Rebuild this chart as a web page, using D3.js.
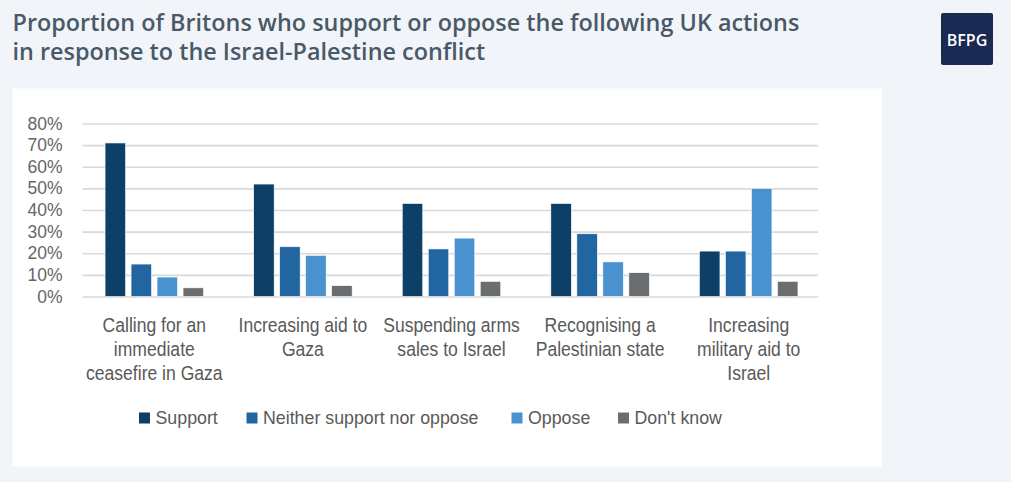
<!DOCTYPE html>
<html>
<head>
<meta charset="utf-8">
<script src="https://cdn.jsdelivr.net/npm/d3@7"></script>
<style>
  html, body { margin: 0; padding: 0; background: #f1f5f9; }
  svg { display: block; }
</style>
</head>
<body>
<svg id="chart" width="1011" height="482"></svg>
<script>
// Survey actions (x-axis groups), split into the lines shown under each group
const categories = [
  "Calling for an immediate ceasefire in Gaza",
  "Increasing aid to Gaza",
  "Suspending arms sales to Israel",
  "Recognising a Palestinian state",
  "Increasing military aid to Israel"
];
const categoryLines = [
  ["Calling for an", "immediate", "ceasefire in Gaza"],
  ["Increasing aid to", "Gaza"],
  ["Suspending arms", "sales to Israel"],
  ["Recognising a", "Palestinian state"],
  ["Increasing", "military aid to", "Israel"]
];

// Response series
const seriesNames = ["Support", "Neither support nor oppose", "Oppose", "Don't know"];
const support = [0.71, 0.52, 0.43, 0.43, 0.21];
const neither = [0.15, 0.23, 0.22, 0.29, 0.21];
const oppose  = [0.09, 0.19, 0.27, 0.16, 0.50];
const dontKnow = [0.04, 0.05, 0.07, 0.11, 0.07];
const seriesValues = [support, neither, oppose, dontKnow];
const seriesColors = ["#0e3f66", "#2166a1", "#4a91cf", "#6b6e70"];

// Y axis ticks
const yTicks = [0, 0.1, 0.2, 0.3, 0.4, 0.5, 0.6, 0.7, 0.8];

const svg = d3.select("#chart");

// Title
const title = svg.append("g")
  .attr("font-family", "'Open Sans', sans-serif")
  .attr("font-weight", 600)
  .attr("font-size", 23.4)
  .attr("fill", "#4a5967");
title.append("text").attr("x", 12.5).attr("y", 31)
  .text("Proportion of Britons who support or oppose the following UK actions");
title.append("text").attr("x", 12.5).attr("y", 60)
  .text("in response to the Israel-Palestine conflict");

// Logo badge
svg.append("rect")
  .attr("x", 941).attr("y", 13).attr("width", 52).attr("height", 52)
  .attr("rx", 2).attr("fill", "#1b2a52");
svg.append("text")
  .attr("x", 967).attr("y", 40)
  .attr("text-anchor", "middle").attr("dominant-baseline", "central")
  .attr("font-family", "'Open Sans', sans-serif").attr("font-weight", 600)
  .attr("font-size", 16).attr("fill", "#ffffff")
  .text("BFPG");

// White chart panel
svg.append("rect")
  .attr("x", 12.5).attr("y", 88.5).attr("width", 869.5).attr("height", 378)
  .attr("fill", "#ffffff");

// Scales
const x0 = d3.scaleBand().domain(categories).range([80, 823]);
const barW = 20.5, barGap = 5.5;
const groupW = seriesNames.length * barW + (seriesNames.length - 1) * barGap;
const y = d3.scaleLinear().domain([0, 0.8]).range([296.5, 123.5]);

const gridX1 = 82.5, gridX2 = 818;

// Gridlines and percentage ticks
const yAxis = d3.axisLeft(y).tickValues(yTicks).tickFormat(d3.format(".0%"))
  .tickSize(-(gridX2 - gridX1)).tickPadding(20);
const gy = svg.append("g").attr("transform", `translate(${gridX1},0)`).call(yAxis);
gy.select(".domain").remove();
gy.selectAll(".tick line").attr("stroke", "#d9d9d9").attr("stroke-width", 1.6);
gy.selectAll(".tick text")
  .attr("font-family", "'Liberation Sans', Arial, sans-serif")
  .attr("font-size", 17.5).attr("fill", "#666666");

// Bars
const groups = svg.append("g").selectAll("g")
  .data(categories)
  .join("g")
  .attr("transform", d => `translate(${x0(d) + x0.bandwidth() / 2 - groupW / 2},0)`);

groups.selectAll("rect")
  .data((d, i) => seriesValues.map((vals, s) => ({ s, v: vals[i] })))
  .join("rect")
  .attr("x", d => d.s * (barW + barGap))
  .attr("y", d => y(d.v))
  .attr("width", barW)
  .attr("height", d => y(0) - y(d.v))
  .attr("fill", d => seriesColors[d.s])
  .attr("stroke", "#ffffff").attr("stroke-width", 0.6);

// Category labels, horizontally condensed
const xLab = svg.append("g")
  .attr("font-family", "'Liberation Sans', Arial, sans-serif")
  .attr("font-size", 19.5)
  .attr("fill", "#595959")
  .attr("text-anchor", "middle");
categories.forEach((c, i) => {
  const cx = x0(c) + x0.bandwidth() / 2;
  categoryLines[i].forEach((line, j) => {
    xLab.append("text")
      .attr("transform", `translate(${cx},${325 + j * 24}) scale(0.9,1)`)
      .attr("dominant-baseline", "central")
      .text(line);
  });
});

// Legend
const legendX = [139, 246.5, 511.5, 618];
const legend = svg.append("g")
  .attr("font-family", "'Liberation Sans', Arial, sans-serif")
  .attr("font-size", 17.8)
  .attr("fill", "#595959");
seriesNames.forEach((name, i) => {
  legend.append("rect")
    .attr("x", legendX[i]).attr("y", 412.5).attr("width", 11).attr("height", 11)
    .attr("fill", seriesColors[i]);
  legend.append("text")
    .attr("x", legendX[i] + 16.5).attr("y", 418)
    .attr("dominant-baseline", "central")
    .text(name);
});
</script>
</body>
</html>
